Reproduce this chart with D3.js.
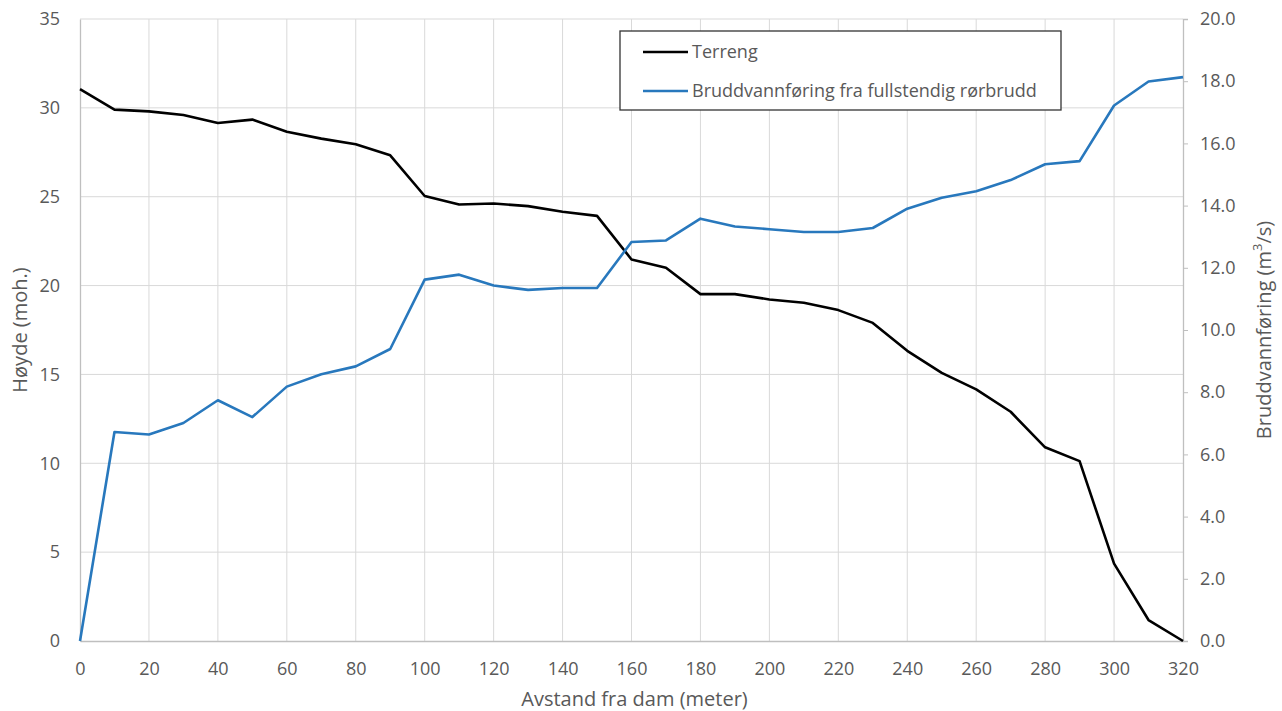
<!DOCTYPE html>
<html>
<head>
<meta charset="utf-8">
<script src="https://cdn.jsdelivr.net/npm/d3@7/dist/d3.min.js"></script>
<style>
  html, body { margin: 0; padding: 0; background: #fff; }
  svg { display: block; font-family: "Open Sans", "Noto Sans", sans-serif; }
</style>
</head>
<body>
<svg id="chart" width="1282" height="711"></svg>
<script>
// ---- data ----
const distance = [0, 10, 20, 30, 40, 50, 60, 70, 80, 90, 100, 110, 120, 130, 140, 150, 160,
                  170, 180, 190, 200, 210, 220, 230, 240, 250, 260, 270, 280, 290, 300, 310, 320];
const terreng = [31.05, 29.9, 29.8, 29.6, 29.15, 29.34, 28.65, 28.27, 27.95, 27.33, 25.04, 24.56,
                 24.62, 24.47, 24.15, 23.92, 21.47, 21.0, 19.52, 19.52, 19.22, 19.03, 18.62, 17.9,
                 16.33, 15.09, 14.16, 12.9, 10.9, 10.12, 4.35, 1.18, 0];
const bruddvann = [0, 6.72, 6.64, 7.01, 7.74, 7.2, 8.18, 8.58, 8.83, 9.39, 11.62, 11.78, 11.43,
                   11.29, 11.35, 11.35, 12.83, 12.88, 13.58, 13.33, 13.24, 13.15, 13.15, 13.28,
                   13.9, 14.25, 14.46, 14.82, 15.33, 15.43, 17.22, 17.99, 18.13];
const xTicks = [0, 20, 40, 60, 80, 100, 120, 140, 160, 180, 200, 220, 240, 260, 280, 300, 320];
const yLeftTicks = [0, 5, 10, 15, 20, 25, 30, 35];
const yRightTicks = [0, 2, 4, 6, 8, 10, 12, 14, 16, 18, 20];
const seriesNames = ["Terreng", "Bruddvannføring fra fullstendig rørbrudd"];
const xTitle = "Avstand fra dam (meter)";
const yLeftTitle = "Høyde (moh.)";

// ---- layout ----
const L = 80, R = 1183, T = 19, B = 641;
const textColor = "#595959";
const gridColor = "#d9d9d9";
const axisColor = "#bfbfbf";
const colors = ["#000000", "#2878bd"];

const svg = d3.select("#chart");
const x = d3.scaleLinear().domain([0, 320]).range([L, R]);
const yL = d3.scaleLinear().domain([0, 35]).range([B, T]);
const yR = d3.scaleLinear().domain([0, 20]).range([B, T]);

// gridlines
const grid = svg.append("g");
grid.selectAll("line.v").data(xTicks.filter(d => d > 0 && d < 320)).join("line")
  .attr("x1", d => x(d)).attr("x2", d => x(d)).attr("y1", T).attr("y2", B)
  .attr("stroke", gridColor).attr("stroke-width", 1);
grid.selectAll("line.h").data(yLeftTicks.filter(d => d > 0)).join("line")
  .attr("x1", L).attr("x2", R).attr("y1", d => yL(d)).attr("y2", d => yL(d))
  .attr("stroke", gridColor).attr("stroke-width", 1);

// axes
const xAxis = svg.append("g").attr("transform", `translate(0,${B})`)
  .call(d3.axisBottom(x).tickValues(xTicks).tickSize(0).tickPadding(21).tickFormat(d3.format("d")));
const yAxisL = svg.append("g").attr("transform", `translate(${L},0)`)
  .call(d3.axisLeft(yL).tickValues(yLeftTicks).tickSize(0).tickPadding(20).tickFormat(d3.format("d")));
const yAxisR = svg.append("g").attr("transform", `translate(${R},0)`)
  .call(d3.axisRight(yR).tickValues(yRightTicks).tickSize(5).tickPadding(12).tickFormat(d3.format(".1f")));
[xAxis, yAxisL, yAxisR].forEach(g => {
  g.select(".domain").attr("stroke", axisColor).attr("stroke-width", 1.3);
  g.selectAll(".tick line").attr("stroke", axisColor);
  g.selectAll(".tick text").attr("fill", textColor).style("font-size", "18px")
    .style("font-family", '"Open Sans", "Noto Sans", sans-serif');
});

// lines
const lineL = d3.line().x((d, i) => x(distance[i])).y(d => yL(d));
const lineR = d3.line().x((d, i) => x(distance[i])).y(d => yR(d));
svg.append("path").datum(terreng).attr("d", lineL)
  .attr("fill", "none").attr("stroke", colors[0]).attr("stroke-width", 2.6).attr("stroke-linejoin", "round");
svg.append("path").datum(bruddvann).attr("d", lineR)
  .attr("fill", "none").attr("stroke", colors[1]).attr("stroke-width", 2.6).attr("stroke-linejoin", "round");

// axis titles
svg.append("text").attr("x", (L + R) / 2 + 3).attr("y", 706).attr("text-anchor", "middle")
  .attr("fill", textColor).style("font-size", "20px").text(xTitle);
svg.append("text").attr("transform", `translate(27,${(T + B) / 2}) rotate(-90)`).attr("text-anchor", "middle")
  .attr("fill", textColor).style("font-size", "20px").text(yLeftTitle);
const rt = svg.append("text").attr("transform", `translate(1271,${(T + B) / 2}) rotate(-90)`)
  .attr("text-anchor", "middle").attr("fill", textColor).style("font-size", "20px");
rt.append("tspan").text("Bruddvannføring (m");
rt.append("tspan").attr("baseline-shift", "super").style("font-size", "13px").text("3");
rt.append("tspan").text("/s)");

// legend
const lg = svg.append("g");
lg.append("rect").attr("x", 620).attr("y", 31).attr("width", 441).attr("height", 79)
  .attr("fill", "#fff").attr("stroke", "#333").attr("stroke-width", 1.3);
const rows = [52, 91];
seriesNames.forEach((name, i) => {
  lg.append("line").attr("x1", 643).attr("x2", 688).attr("y1", rows[i]).attr("y2", rows[i])
    .attr("stroke", colors[i]).attr("stroke-width", 2.6);
  lg.append("text").attr("x", 692).attr("y", rows[i]).attr("dy", "0.35em")
    .attr("fill", textColor).style("font-size", "18px").text(name);
});
</script>
</body>
</html>
